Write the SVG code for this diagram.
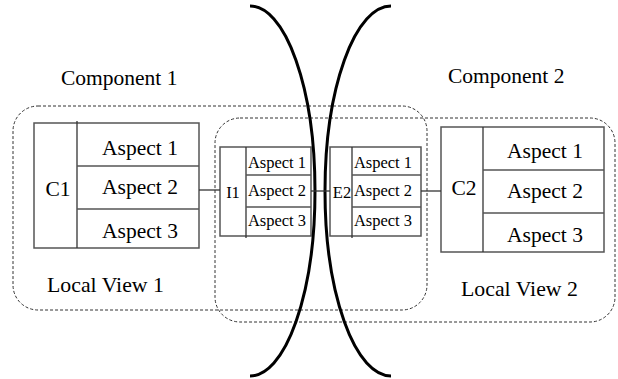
<svg xmlns="http://www.w3.org/2000/svg" width="618" height="379" viewBox="0 0 618 379">
<style>
.mid{text-anchor:middle}
.box{fill:none;stroke:#555;stroke-width:1.5}
.div{stroke:#333;stroke-width:1.3}
.dash{fill:none;stroke:#333;stroke-width:1;stroke-dasharray:3 2}
.arc{fill:none;stroke:#000;stroke-width:3}
.con{stroke:#333;stroke-width:1.3}
</style>
<rect width="618" height="379" fill="#fff"/>
<g id="local-view-1">
<rect class="dash" x="13" y="106" width="414" height="204" rx="25" ry="25"/>
<text font-family="Liberation Serif" font-size="21.8" x="47" y="292">Local View 1</text>
</g>
<g id="local-view-2">
<rect class="dash" x="215" y="118" width="400" height="204" rx="25" ry="25"/>
<text font-family="Liberation Serif" font-size="21.8" x="461" y="296">Local View 2</text>
</g>
<g id="component-1-label"><text font-family="Liberation Serif" font-size="21.5" x="61" y="85">Component 1</text></g>
<g id="component-2-label"><text font-family="Liberation Serif" font-size="21.5" x="448" y="83">Component 2</text></g>
<g id="C1">
<rect class="box" x="34" y="123" width="165" height="125"/>
<line class="div" x1="77" y1="121" x2="77" y2="248"/>
<line class="box" x1="77" y1="166" x2="199" y2="166"/>
<line class="box" x1="77" y1="209" x2="199" y2="209"/>
<text font-family="Liberation Serif" font-size="21.5" class="mid" x="58" y="196">C1</text>
<text font-family="Liberation Serif" font-size="21.5" class="mid" x="140" y="155">Aspect 1</text>
<text font-family="Liberation Serif" font-size="21.5" class="mid" x="140" y="194">Aspect 2</text>
<text font-family="Liberation Serif" font-size="21.5" class="mid" x="140" y="238">Aspect 3</text>
</g>
<g id="I1">
<rect class="box" x="220" y="147" width="91" height="89"/>
<line class="div" x1="246" y1="147" x2="246" y2="238"/>
<line class="box" x1="246" y1="175" x2="311" y2="175"/>
<line class="box" x1="246" y1="207" x2="311" y2="207"/>
<text font-family="Liberation Serif" font-size="16.5" class="mid" x="233" y="198">I1</text>
<text font-family="Liberation Serif" font-size="16.5" class="mid" x="277" y="168">Aspect 1</text>
<text font-family="Liberation Serif" font-size="16.5" class="mid" x="277" y="196">Aspect 2</text>
<text font-family="Liberation Serif" font-size="16.5" class="mid" x="277" y="226">Aspect 3</text>
</g>
<g id="E2">
<rect class="box" x="330" y="147" width="91" height="89"/>
<line class="div" x1="352" y1="147" x2="352" y2="238"/>
<line class="box" x1="352" y1="175" x2="421" y2="175"/>
<line class="box" x1="352" y1="207" x2="421" y2="207"/>
<text font-family="Liberation Serif" font-size="16.5" class="mid" x="342" y="198">E2</text>
<text font-family="Liberation Serif" font-size="16.5" class="mid" x="383" y="168">Aspect 1</text>
<text font-family="Liberation Serif" font-size="16.5" class="mid" x="383" y="196">Aspect 2</text>
<text font-family="Liberation Serif" font-size="16.5" class="mid" x="383" y="226">Aspect 3</text>
</g>
<g id="C2">
<rect class="box" x="441" y="127" width="163" height="125"/>
<line class="div" x1="483" y1="127" x2="483" y2="252"/>
<line class="box" x1="483" y1="170" x2="604" y2="170"/>
<line class="box" x1="483" y1="213" x2="604" y2="213"/>
<text font-family="Liberation Serif" font-size="21.5" class="mid" x="464" y="195">C2</text>
<text font-family="Liberation Serif" font-size="21.5" class="mid" x="545" y="158">Aspect 1</text>
<text font-family="Liberation Serif" font-size="21.5" class="mid" x="545" y="198">Aspect 2</text>
<text font-family="Liberation Serif" font-size="21.5" class="mid" x="545" y="242">Aspect 3</text>
</g>
<g id="boundaries">
<path class="arc" d="M250 6 A65 185 0 0 1 250 376"/>
<path class="arc" d="M391 6 A66 185 0 0 0 391 376"/>
</g>
<g id="connectors">
<line class="con" x1="199" y1="190" x2="220" y2="190"/>
<line class="con" x1="311" y1="191" x2="330" y2="191"/>
<line class="con" x1="421" y1="191" x2="441" y2="191"/>
</g>
</svg>
